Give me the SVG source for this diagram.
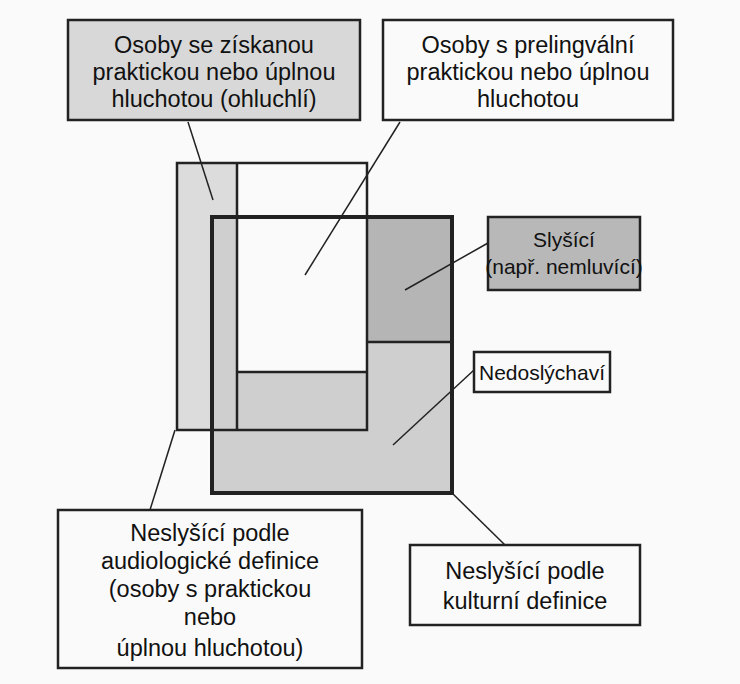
<svg xmlns="http://www.w3.org/2000/svg" width="740" height="684" viewBox="0 0 740 684">
<style>
text{font-family:"Liberation Sans",Arial,sans-serif;font-size:23.5px;fill:#111;text-anchor:middle}
.s{font-size:21px}
.b{stroke:#222;stroke-width:2.5}
.t{stroke:#222;stroke-width:4}
.l{stroke:#222;stroke-width:1.5;fill:none}
</style>
<rect width="740" height="684" fill="#fafafa"/>
<g id="shapes">
<rect x="177" y="163" width="60" height="267" fill="#dcdcdc"/>
<rect x="212" y="217" width="240" height="276" fill="#cfcfcf"/>
<rect x="367" y="217" width="85" height="125" fill="#b5b5b5"/>
<rect x="237" y="163" width="130" height="209" fill="#fafafa"/>
<rect x="177" y="163" width="190" height="267" fill="none" class="b"/>
<line x1="237" y1="163" x2="237" y2="430" class="b"/>
<line x1="237" y1="372" x2="367" y2="372" class="b"/>
<line x1="367" y1="342" x2="452" y2="342" class="b"/>
<rect x="212" y="217" width="240" height="276" fill="none" class="t"/>
</g>
<g id="n1"><rect x="68" y="20" width="292" height="100" fill="#d8d8d8" class="b"/>
<text x="214" y="53">Osoby se získanou</text><text x="214" y="80">praktickou nebo úplnou</text><text x="214" y="107">hluchotou (ohluchlí)</text></g>
<g id="n2"><rect x="383" y="20" width="290" height="100" fill="#fafafa" class="b"/>
<text x="528" y="53">Osoby s prelingvální</text><text x="528" y="80">praktickou nebo úplnou</text><text x="528" y="107">hluchotou</text></g>
<g id="n3"><rect x="488" y="217" width="152" height="73" fill="#b8b8b8" class="b"/>
<text x="564" y="247" class="s">Slyšící</text><text x="564" y="274" class="s">(např. nemluvící)</text></g>
<g id="n4"><rect x="474" y="352" width="136" height="40" fill="#fafafa" class="b"/>
<text x="542" y="380" class="s">Nedoslýchaví</text></g>
<g id="n5"><rect x="58" y="510" width="304" height="158" fill="#fafafa" class="b"/>
<text x="210" y="541">Neslyšící podle</text><text x="210" y="569">audiologické definice</text><text x="210" y="597">(osoby s praktickou</text><text x="210" y="625">nebo</text><text x="210" y="656">úplnou hluchotou)</text></g>
<g id="n6"><rect x="410" y="545" width="230" height="80" fill="#fafafa" class="b"/>
<text x="525" y="579">Neslyšící podle</text><text x="525" y="609">kulturní definice</text></g>
<g id="connectors">
<line x1="188" y1="122" x2="213" y2="200" class="l"/>
<line x1="400" y1="122" x2="305" y2="275" class="l"/>
<line x1="488" y1="243" x2="405" y2="290" class="l"/>
<line x1="474" y1="370" x2="393" y2="445" class="l"/>
<line x1="175" y1="430" x2="150" y2="510" class="l"/>
<line x1="452" y1="493" x2="505" y2="545" class="l"/>
</g>
</svg>
